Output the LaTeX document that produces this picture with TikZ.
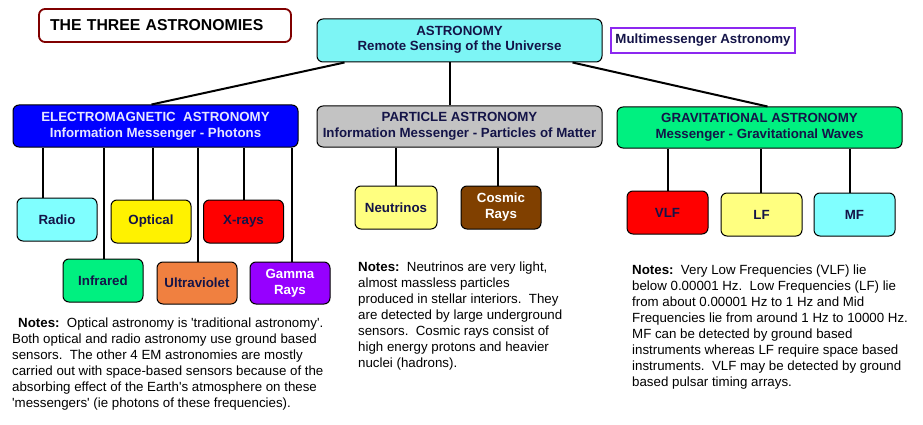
\documentclass[tikz,border=0pt]{standalone}
\usepackage{fontspec}
\setmainfont{Liberation Sans}[Ligatures=TeXOff]
\usepackage{tikz}
\usetikzlibrary{positioning}

\definecolor{ink}{RGB}{20,20,72}
\definecolor{skycyan}{RGB}{125,245,245}
\definecolor{palecyan}{RGB}{128,255,255}
\definecolor{paleyellow}{RGB}{255,255,128}
\definecolor{emblue}{RGB}{0,0,255}
\definecolor{gwgreen}{RGB}{0,240,128}
\definecolor{uvorange}{RGB}{240,128,64}
\definecolor{gammapurple}{RGB}{150,0,255}
\definecolor{cosmicbrown}{RGB}{128,64,0}
\definecolor{titlered}{RGB}{128,0,0}
\definecolor{multipurple}{RGB}{140,40,240}

\tikzset{
  box/.style={draw=black, line width=1pt, rounded corners=6pt, inner sep=0pt,
    minimum width=285, minimum height=42, align=center, text=ink,
    font=\fontsize{13.3}{16}\selectfont\bfseries},
  leaf/.style={box, minimum width=80, minimum height=43},
  link/.style={line width=2pt},
  notes/.style={anchor=north west, inner sep=0pt, align=left, text=black,
    font=\fontsize{13.3}{16}\selectfont}
}

\begin{document}
\begin{tikzpicture}[x=1pt,y=-1pt]
  \useasboundingbox (0,0) rectangle (923,425);

  %%%%% TOP %%%%%
  \node[draw=titlered, line width=1.8pt, rounded corners=6pt, fill=white,
    minimum width=252, minimum height=33, inner xsep=11pt, inner ysep=0pt,
    text width=230, align=left, font=\fontsize{15.8}{18}\selectfont\bfseries]
    (title) at (165,25.5) {THE THREE ASTRONOMIES};

  \node[box, fill=skycyan, minimum height=43] (astro) at (459.5,40.5)
    {ASTRONOMY\\[-1pt]Remote Sensing of the Universe\\[-11pt]};
  \node[draw=multipurple, line width=1.5pt, minimum width=184, minimum height=25,
    inner sep=0pt, font=\fontsize{13.3}{16}\selectfont\bfseries, text=ink]
    (multi) at (703,40.5) {Multimessenger Astronomy};

  %%%%% BRANCHES %%%%%
  \node[box, fill=emblue, text={rgb,255:red,230;green,230;blue,255}] (em) at (155.5,126)
    {ELECTROMAGNETIC\ \ ASTRONOMY\\Information Messenger - Photons};
  \node[box, fill={rgb,255:red,195;green,195;blue,195}, minimum height=41] (part) at (459.5,126.5)
    {PARTICLE ASTRONOMY\\Information Messenger - Particles of Matter};
  \node[box, fill=gwgreen, minimum height=41] (grav) at (759.5,127.5)
    {GRAVITATIONAL ASTRONOMY\\Messenger - Gravitational Waves};

  \draw[link] ([xshift=-115]astro.south) -- ([xshift=-4]em.north);
  \draw[link] ([xshift=-10]astro.south) -- ([xshift=-10]astro.south |- part.north);
  \draw[link] ([xshift=113]astro.south) -- ([xshift=8]grav.north);

  %%%%% EM %%%%%
  \node[leaf, fill=palecyan] (radio) at (57,219.5) {Radio};
  \node[leaf, fill=yellow] (optical) at (151,221.5) {Optical};
  \node[leaf, fill=red] (xrays) at (243.5,221.5) {X-rays};
  \node[leaf, fill=gwgreen] (infrared) at (103,280.5) {Infrared};
  \node[leaf, fill=uvorange, minimum height=42] (uv) at (197,283) {Ultraviolet};
  \node[leaf, fill=gammapurple, minimum height=42, text=white] (gamma) at (290,283) {Gamma\\Rays};

  \foreach \kid/\dx in {radio/-14, infrared/1, optical/2, uv/1, xrays/0, gamma/2}
    \draw[link] ([xshift=\dx]\kid.north) -- ([xshift=\dx]\kid.north |- em.south);

  %%%%% PARTICLE %%%%%
  \node[leaf, fill=paleyellow, minimum width=82] (neutrinos) at (396,207.5) {Neutrinos};
  \node[leaf, fill=cosmicbrown, text=white] (cosmic) at (501,207.5) {Cosmic\\Rays};

  \foreach \kid/\dx in {neutrinos/0, cosmic/-3}
    \draw[link] ([xshift=\dx]\kid.north) -- ([xshift=\dx]\kid.north |- part.south);

  %%%%% GRAVITATIONAL %%%%%
  \node[leaf, fill=red, minimum width=81] (vlf) at (667.5,212.5) {VLF};
  \node[leaf, fill=paleyellow, minimum width=81] (lf) at (761.5,214.5) {LF};
  \node[leaf, fill=palecyan, minimum width=81] (mf) at (854.5,214.5) {MF};

  \foreach \kid/\dx in {vlf/0, lf/-1, mf/-5}
    \draw[link] ([xshift=\dx]\kid.north) -- ([xshift=\dx]\kid.north |- grav.south);

  %%%%% NOTES %%%%%
  \node[notes] (emnotes) at (12,318) {%
    \hspace{6pt}\textbf{Notes:}\ \ Optical astronomy is 'traditional astronomy'.\\
    Both optical and radio astronomy use ground based\\
    sensors.\ \ The other 4 EM astronomies are mostly\\
    carried out with space-based sensors because of the\\
    absorbing effect of the Earth's atmosphere on these\\
    'messengers' (ie photons of these frequencies).};

  \node[notes] (partnotes) at (358,262) {%
    \textbf{Notes:}\ \ Neutrinos are very light,\\
    almost massless particles\\
    produced in stellar interiors.\ \ They\\
    are detected by large underground\\
    sensors.\ \ Cosmic rays consist of\\
    high energy protons and heavier\\
    nuclei (hadrons).};

  \node[notes] (gravnotes) at (632,265) {%
    \textbf{Notes:}\ \ Very Low Frequencies (VLF) lie\\
    below 0.00001 Hz.\ \ Low Frequencies (LF) lie\\
    from about 0.00001 Hz to 1 Hz and Mid\\
    Frequencies lie from around 1 Hz to 10000 Hz.\\
    MF can be detected by ground based\\
    instruments whereas LF require space based\\
    instruments.\ \ VLF may be detected by ground\\
    based pulsar timing arrays.};
\end{tikzpicture}
\end{document}
